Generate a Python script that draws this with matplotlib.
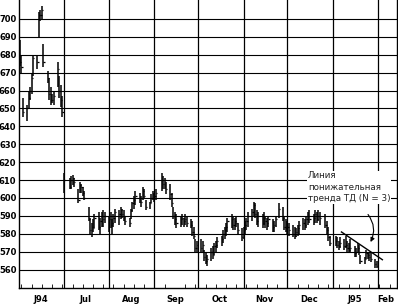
import matplotlib
matplotlib.use("Agg")
import matplotlib.pyplot as plt
import matplotlib.dates as mdates
import pandas as pd

# daily bars, Jun 1994 - Jan 1995 (trading days)
highs = [
    688, 680, 656, 652, 659, 662, 669, 680, 680, 704, 705, 707, 686, 671, 667, 662, 658, 660, 676, 668, 663, 657,  # Jun
    614, 611, 612, 613, 611, 605, 609, 608, 606, 604, 595, 589, 586, 588, 591, 592, 589, 592, 593, 592,  # Jul
    590, 592, 588, 591, 594, 593, 595, 594, 593, 590, 589, 594, 598, 601, 604, 603, 601, 606, 605, 599, 598, 602, 604,  # Aug
    603, 605, 614, 612, 611, 609, 608, 603, 595, 592, 591, 590, 591, 589, 591, 590, 588, 587, 584, 577, 576,  # Sep
    577, 576, 571, 569, 568, 572, 573, 575, 576, 578, 579, 582, 584, 586, 589, 591, 590, 589, 590, 586, 583,  # Oct
    584, 587, 589, 592, 594, 598, 597, 593, 592, 591, 592, 590, 589, 590, 588, 587, 590, 597, 595, 590, 588,  # Nov
    587, 586, 585, 584, 583, 585, 587, 589, 588, 590, 592, 593, 591, 593, 592, 593, 592, 591, 587, 584, 579,  # Dec
    579, 578, 576, 578, 577, 579, 576, 575, 577, 573, 572, 575, 574, 568, 567, 571, 570, 570, 569, 566, 565,  # Jan
]
lows = [
    674, 669, 645, 643, 650, 655, 658, 668, 672, 690, 699, 700, 673, 664, 655, 652, 653, 652, 662, 656, 651, 645,
    603, 605, 605, 607, 606, 597, 603, 603, 601, 599, 587, 580, 578, 581, 583, 582, 580, 584, 584, 586,
    581, 583, 580, 584, 586, 585, 588, 589, 587, 585, 584, 588, 592, 594, 596, 597, 595, 599, 600, 593, 594, 597, 599,
    598, 599, 604, 605, 605, 602, 599, 595, 588, 585, 583, 584, 585, 584, 585, 584, 583, 579, 577, 570, 570,
    569, 569, 565, 563, 562, 565, 566, 568, 570, 572, 573, 575, 577, 579, 581, 583, 582, 582, 584, 580, 576,
    577, 580, 582, 584, 587, 590, 589, 585, 584, 583, 585, 583, 582, 584, 581, 581, 584, 589, 587, 582, 581,
    580, 579, 578, 577, 578, 579, 580, 582, 582, 583, 585, 586, 585, 586, 586, 587, 585, 583, 580, 576, 573,
    573, 572, 571, 572, 571, 572, 570, 569, 570, 567, 567, 569, 568, 563, 563, 566, 566, 565, 564, 561, 561,
]
closes = [
    676, 673, 648, 650, 656, 660, 667, 678, 676, 702, 702, 705, 676, 667, 658, 655, 655, 657, 672, 660, 655, 648,
    610, 606, 610, 611, 609, 599, 607, 606, 603, 600, 588, 582, 584, 583, 589, 584, 587, 590, 588, 590,
    588, 585, 586, 589, 592, 591, 593, 591, 590, 587, 586, 593, 597, 599, 601, 600, 598, 604, 601, 595, 597, 600, 602,
    601, 603, 610, 608, 610, 605, 602, 597, 590, 588, 586, 588, 589, 587, 588, 586, 585, 581, 579, 572, 574,
    572, 574, 567, 565, 566, 570, 568, 573, 574, 576, 577, 580, 582, 584, 587, 588, 585, 587, 586, 582, 578,
    582, 585, 587, 590, 592, 596, 591, 587, 590, 586, 589, 587, 586, 588, 584, 585, 588, 594, 589, 584, 583,
    584, 582, 580, 579, 581, 583, 585, 586, 585, 588, 590, 588, 589, 591, 588, 590, 589, 585, 582, 578, 575,
    576, 574, 573, 575, 573, 574, 572, 571, 572, 569, 570, 572, 570, 565, 566, 569, 568, 567, 566, 563, 562,
]
holidays = ["1994-07-04", "1994-09-05", "1994-11-24", "1994-12-26", "1995-01-02"]

month_starts = ["1994-07-01", "1994-08-01", "1994-09-01", "1994-10-01",
                "1994-11-01", "1994-12-01", "1995-01-01", "1995-02-01"]
month_labels = ["J94", "Jul", "Aug", "Sep", "Oct", "Nov", "Dec", "J95", "Feb"]
label_dates = ["1994-06-15", "1994-07-16", "1994-08-16", "1994-09-15", "1994-10-16",
               "1994-11-15", "1994-12-16", "1995-01-16", "1995-02-06"]
price_ticks = list(range(560, 701, 10))

trend_dates = ["1995-01-07", "1995-02-04"]
trend_vals = [581, 565.5]
note = "Линия\nпонижательная\nтренда ТД (N = 3)"

days = pd.bdate_range("1994-06-01", "1995-01-31")
days = days[~days.isin(pd.to_datetime(holidays))]

fig = plt.figure(figsize=(3.98, 3.08), dpi=100)
ax = fig.add_axes([18.5 / 398, 20 / 308, 378.5 / 398, 288 / 308])

ax.set_yticks(price_ticks)
ax.yaxis.grid(True, color="black", lw=0.8)
for m in pd.to_datetime(month_starts):
    ax.axvline(m, color="black", lw=0.9, zorder=1)

ax.vlines(days, lows, highs, color="black", lw=1.1, zorder=3)
ax.hlines(closes, days, days + pd.Timedelta(hours=20), color="black", lw=0.9, zorder=3)

ax.plot(pd.to_datetime(trend_dates), trend_vals, color="black", lw=1.0, zorder=4)

ax.text(pd.Timestamp("1994-12-15"), 606, note, fontsize=6.3, va="center", ha="left",
        linespacing=1.35, color="#222222", zorder=5,
        bbox=dict(facecolor="white", edgecolor="none", pad=0.5))
ax.annotate("", xy=(pd.Timestamp("1995-01-26"), 574), xytext=(pd.Timestamp("1995-01-24"), 592),
            arrowprops=dict(arrowstyle="-|>", connectionstyle="arc3,rad=-0.35",
                            color="black", lw=0.8, mutation_scale=6), zorder=5)

ax.set_xlim(pd.Timestamp("1994-05-31"), pd.Timestamp("1995-02-14"))
ax.set_ylim(549.7, 710.6)

ax.set_xticks(pd.to_datetime(label_dates))
ax.set_xticklabels(month_labels)
ax.xaxis.set_minor_locator(mdates.WeekdayLocator(byweekday=mdates.TH))
ax.tick_params(axis="x", which="major", length=0, pad=5, labelsize=6)
ax.tick_params(axis="x", which="minor", direction="in", length=3, width=0.6)
ax.tick_params(axis="y", length=0, pad=1.5, labelsize=6)
for lbl in ax.get_xticklabels() + ax.get_yticklabels():
    lbl.set_fontweight("bold")

ax.spines["top"].set_visible(False)
for s in ["left", "bottom", "right"]:
    ax.spines[s].set_linewidth(1.0)

fig.savefig("out.png", dpi=100)
